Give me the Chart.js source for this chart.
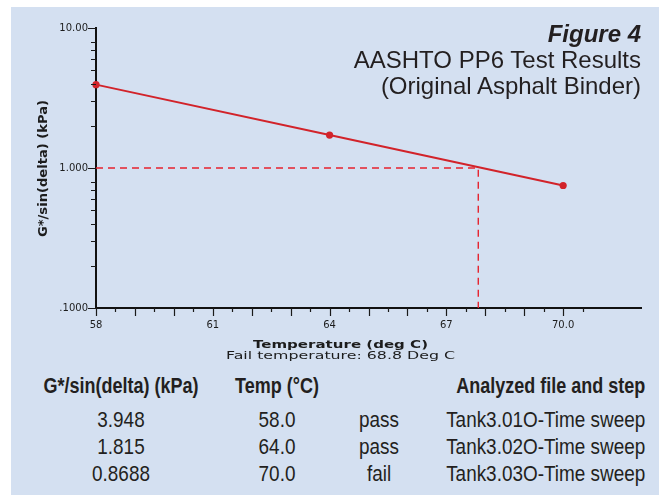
<!DOCTYPE html>
<html>
<head>
<meta charset="utf-8">
<script src="https://cdn.jsdelivr.net/npm/chart.js@4"></script>
<style>
  html, body { margin: 0; padding: 0; background: #fff; }
  #wrap { position: relative; width: 659px; height: 495px; overflow: hidden; }
  #panel { position: absolute; left: 11px; top: 7px; right: 0; bottom: 0; background: #d4e0f1; }
  #chart { position: absolute; left: 0; top: 0; }
  #title { position: absolute; right: 18px; top: 21px; text-align: right; white-space: nowrap;
           font-family: "Liberation Sans", Arial, sans-serif; font-size: 24px; line-height: 26.2px; color: #231f20; }
  #title b { font-style: italic; }
  .cell { position: absolute; white-space: nowrap; color: #231f20;
          font-family: "Liberation Sans", Arial, sans-serif; font-size: 21.5px; line-height: 26.8px; }
  .hdr { font-weight: bold; font-size: 22.5px; }
</style>
</head>
<body>
<div id="wrap">
  <div id="panel"></div>
  <canvas id="chart" width="659" height="370"></canvas>
  <div id="title"><b>Figure 4</b><br>AASHTO PP6 Test Results<br>(Original Asphalt Binder)</div>
  <div id="table"></div>
</div>
<script>
// values as drawn on the plot
const temps = [58, 64, 70];
const gPlotted = [3.94, 1.72, 0.75];
const criterion = 1.0;
const failTempDrawn = 67.82;

const xTickValues = [58, 61, 64, 67, 70];
const xTickText = ['58', '61', '64', '67', '70.0'];
const xMajorMarks = [58, 59, 60, 61, 62, 63, 64, 65, 66, 67, 68, 69, 70];
const xMinorMarks = [58.5, 59.5, 60.5, 61.5, 62.5, 63.5, 64.5, 65.5, 66.5, 67.5, 68.5, 69.5, 70.5];
const yTickValues = [0.1, 1, 10];
const yTickText = ['.1000', '1.000', '10.00'];
const yMinorMarks = [0.2, 0.3, 0.4, 0.5, 0.6, 0.7, 0.8, 2, 3, 4, 5, 6, 7, 8];

// results table under the chart
const tableHeaders = ['G*/sin(delta) (kPa)', 'Temp (°C)', '', 'Analyzed file and step'];
const tableG = ['3.948', '1.815', '0.8688'];
const tableTemp = ['58.0', '64.0', '70.0'];
const tableResult = ['pass', 'pass', 'fail'];
const tableFile = ['Tank3.01O-Time sweep', 'Tank3.02O-Time sweep', 'Tank3.03O-Time sweep'];

const xTitle = 'Temperature (deg C)';
const xSubTitle = 'Fail temperature: 68.8 Deg C';
const yTitle = 'G*/sin(delta) (kPa)';

const RED = '#d2232a';
const TEXT = '#1c1c1c';

function stretchedText(ctx, text, cx, cy, font, width, angle) {
  ctx.save();
  ctx.font = font;
  const w = ctx.measureText(text).width;
  ctx.translate(cx, cy);
  ctx.rotate(angle);
  ctx.scale(width / w, 1);
  ctx.textAlign = 'center';
  ctx.textBaseline = 'alphabetic';
  ctx.fillStyle = TEXT;
  ctx.fillText(text, 0, 0);
  ctx.restore();
}

const axisExtras = {
  id: 'axisExtras',
  afterDraw(chart) {
    const { ctx, chartArea: a, scales: { x, y } } = chart;
    ctx.save();
    ctx.strokeStyle = '#1a1a1a';
    ctx.lineWidth = 1.2;
    ctx.beginPath();
    xMajorMarks.forEach(v => { const p = Math.round(x.getPixelForValue(v)) + 0.5; ctx.moveTo(p, a.bottom); ctx.lineTo(p, a.bottom + 8); });
    xMinorMarks.forEach(v => { const p = Math.round(x.getPixelForValue(v)) + 0.5; ctx.moveTo(p, a.bottom); ctx.lineTo(p, a.bottom + 4); });
    yTickValues.forEach(v => { const p = Math.round(y.getPixelForValue(v)) + 0.5; ctx.moveTo(a.left - 8, p); ctx.lineTo(a.left, p); });
    yMinorMarks.forEach(v => { const p = Math.round(y.getPixelForValue(v)) + 0.5; ctx.moveTo(a.left - 5, p); ctx.lineTo(a.left, p); });
    ctx.stroke();
    ctx.restore();

    stretchedText(ctx, xTitle, 340.5, 347.7, 'bold 11px "DejaVu Sans"', 175, 0);
    stretchedText(ctx, xSubTitle, 340.5, 359.3, '10.5px "DejaVu Sans"', 229, 0);
    stretchedText(ctx, yTitle, 46.5, 168.5, 'bold 12px "DejaVu Sans"', 137, -Math.PI / 2);
  }
};

new Chart(document.getElementById('chart'), {
  type: 'line',
  data: {
    datasets: [
      {
        data: temps.map((t, i) => ({ x: t, y: gPlotted[i] })),
        borderColor: RED, borderWidth: 2,
        pointRadius: 3.6, pointBackgroundColor: RED, pointBorderWidth: 0,
        clip: false, order: 0
      },
      {
        data: [{ x: temps[0], y: criterion }, { x: failTempDrawn, y: criterion }, { x: failTempDrawn, y: yTickValues[0] }],
        borderColor: '#e6222e', borderWidth: 1.4, borderDash: [7, 5],
        pointRadius: 0, order: 1
      }
    ]
  },
  options: {
    responsive: false, animation: false,
    layout: { padding: { top: 28, right: 18, left: 0, bottom: 0 } },
    plugins: { legend: { display: false }, tooltip: { enabled: false } },
    scales: {
      x: {
        type: 'linear', min: 58, max: 72,
        afterFit: s => { s.height = 62; },
        afterBuildTicks: s => { s.ticks = xTickValues.map(v => ({ value: v })); },
        grid: { display: true, drawOnChartArea: false, drawTicks: false },
        border: { display: true, color: '#111', width: 2 },
        ticks: {
          autoSkip: false, maxRotation: 0, padding: 11, color: '#1c1c1c',
          font: { family: 'DejaVu Sans', size: 10 },
          callback: (v, i) => xTickText[i]
        }
      },
      y: {
        type: 'logarithmic', min: 0.1, max: 10,
        afterFit: s => { s.width = 96; },
        afterBuildTicks: s => { s.ticks = yTickValues.map(v => ({ value: v })); },
        grid: { display: true, drawOnChartArea: false, drawTicks: false },
        border: { display: true, color: '#111', width: 2 },
        ticks: {
          autoSkip: false, padding: 8, color: '#1c1c1c',
          font: { family: 'DejaVu Sans', size: 10 },
          callback: (v, i) => yTickText[i]
        }
      }
    }
  },
  plugins: [axisExtras]
});

// table: condensed look by squeezing a regular sans horizontally
const table = document.getElementById('table');
const cols = [{ c: 120.5 }, { c: 277 }, { c: 378.5 }, { r: 645 }];
function addCell(text, col, top, cls, squeeze) {
  const d = document.createElement('div');
  d.className = 'cell' + (cls ? ' ' + cls : '');
  d.textContent = text;
  d.style.top = top + 'px';
  if (col.r !== undefined) {
    d.style.right = (659 - col.r) + 'px';
    d.style.transformOrigin = '100% 50%';
    d.style.transform = `scaleX(${squeeze})`;
  } else {
    d.style.left = col.c + 'px';
    d.style.transform = `translateX(-50%) scaleX(${squeeze})`;
  }
  table.appendChild(d);
}
tableHeaders.forEach((h, j) => { if (h) addCell(h, cols[j], 372.8, 'hdr', 0.8); });
tableG.forEach((g, i) => {
  const top = 407.1 + i * 26.85;
  addCell(g, cols[0], top, '', 0.88);
  addCell(tableTemp[i], cols[1], top, '', 0.88);
  addCell(tableResult[i], cols[2], top, '', 0.88);
  addCell(tableFile[i], cols[3], top, '', 0.88);
});
</script>
</body>
</html>
